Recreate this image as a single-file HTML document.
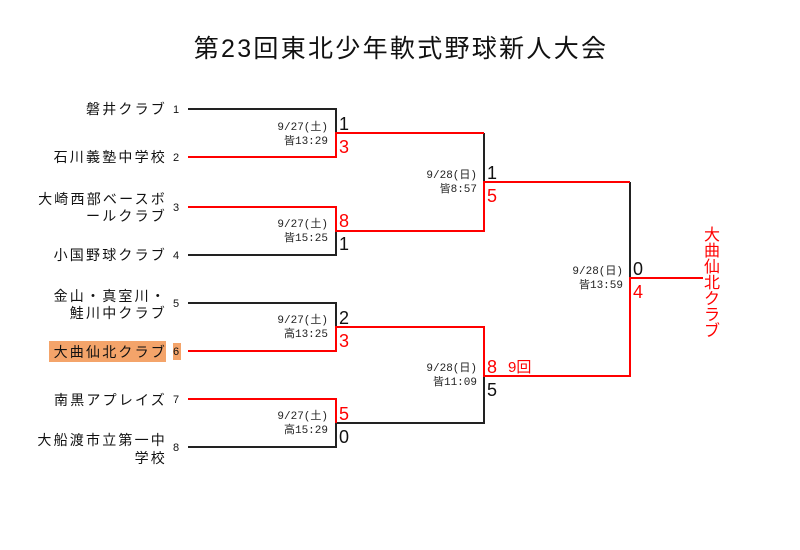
<!DOCTYPE html>
<html><head><meta charset="utf-8"><style>
html,body{margin:0;padding:0;background:#fff;}
svg{display:block;}
text{font-family:"Liberation Sans","Noto Sans CJK JP",sans-serif;}
.n{font-size:14px;fill:#111;text-anchor:end;letter-spacing:2.2px;}
.s{font-size:11px;fill:#111;}
.d{font-size:11px;fill:#222;text-anchor:end;font-family:"Liberation Mono","Noto Sans CJK JP",monospace;}
.sc{font-size:18px;}
</style></head><body>
<svg width="800" height="550" viewBox="0 0 800 550" xmlns="http://www.w3.org/2000/svg">
<text x="401" y="57" font-size="25" text-anchor="middle" fill="#111" letter-spacing="2.3">第23回東北少年軟式野球新人大会</text>

<rect x="49" y="341" width="117" height="21" fill="#f4a46a"/>
<rect x="173" y="343" width="8" height="17" fill="#f4a46a"/>

<g>
<text class="n" x="167" y="114">磐井クラブ</text>
<text class="n" x="167" y="162">石川義塾中学校</text>
<text class="n" x="167" y="204">大崎西部ベースボ</text>
<text class="n" x="167" y="221">ールクラブ</text>
<text class="n" x="167" y="260">小国野球クラブ</text>
<text class="n" x="167" y="301">金山・真室川・</text>
<text class="n" x="167" y="318">鮭川中クラブ</text>
<text class="n" x="167" y="357">大曲仙北クラブ</text>
<text class="n" x="167" y="405">南黒アプレイズ</text>
<text class="n" x="167" y="445">大船渡市立第一中</text>
<text class="n" x="167" y="463">学校</text>
</g>

<text class="s" x="173" y="113">1</text>
<text class="s" x="173" y="161">2</text>
<text class="s" x="173" y="211">3</text>
<text class="s" x="173" y="259">4</text>
<text class="s" x="173" y="307">5</text>
<text class="s" x="173" y="355">6</text>
<text class="s" x="173" y="403">7</text>
<text class="s" x="173" y="451">8</text>

<g fill="none" stroke-width="2">
<g stroke="#222">
<polyline points="188,109 336,109 336,133"/>
<polyline points="188,255 336,255 336,231"/>
<polyline points="188,303 336,303 336,327"/>
<polyline points="188,447 336,447 336,423"/>
<polyline points="484,133 484,182"/>
<polyline points="336,423 484,423 484,376"/>
<polyline points="630,182 630,278"/>
</g>
<g stroke="#f00">
<polyline points="188,157 336,157 336,133 484,133"/>
<polyline points="188,207 336,207 336,231 484,231 484,182 630,182"/>
<polyline points="188,351 336,351 336,327 484,327 484,376 630,376 630,278 703,278"/>
<polyline points="188,399 336,399 336,423"/>
</g>
</g>

<g class="sc">
<text x="339" y="130" fill="#111">1</text>
<text x="339" y="153" fill="#f00">3</text>
<text x="339" y="227" fill="#f00">8</text>
<text x="339" y="250" fill="#111">1</text>
<text x="339" y="324" fill="#111">2</text>
<text x="339" y="347" fill="#f00">3</text>
<text x="339" y="420" fill="#f00">5</text>
<text x="339" y="443" fill="#111">0</text>
<text x="487" y="179" fill="#111">1</text>
<text x="487" y="202" fill="#f00">5</text>
<text x="487" y="373" fill="#f00">8</text>
<text x="487" y="396" fill="#111">5</text>
<text x="633" y="275" fill="#111">0</text>
<text x="633" y="298" fill="#f00">4</text>
</g>
<text x="508" y="372" font-size="15" fill="#f00">9回</text>

<text class="d" x="328" y="130">9/27(土)</text>
<text class="d" x="328" y="144">皆13:29</text>
<text class="d" x="328" y="227">9/27(土)</text>
<text class="d" x="328" y="241">皆15:25</text>
<text class="d" x="328" y="323">9/27(土)</text>
<text class="d" x="328" y="337">高13:25</text>
<text class="d" x="328" y="419">9/27(土)</text>
<text class="d" x="328" y="433">高15:29</text>
<text class="d" x="477" y="178">9/28(日)</text>
<text class="d" x="477" y="192">皆8:57</text>
<text class="d" x="477" y="371">9/28(日)</text>
<text class="d" x="477" y="385">皆11:09</text>
<text class="d" x="623" y="274">9/28(日)</text>
<text class="d" x="623" y="288">皆13:59</text>

<g font-size="16" fill="#f00" text-anchor="middle">
<text x="712" y="240">大</text>
<text x="712" y="256">曲</text>
<text x="712" y="272">仙</text>
<text x="712" y="288">北</text>
<text x="712" y="304">ク</text>
<text x="712" y="320">ラ</text>
<text x="712" y="336">ブ</text>
</g>
</svg>
</body></html>
